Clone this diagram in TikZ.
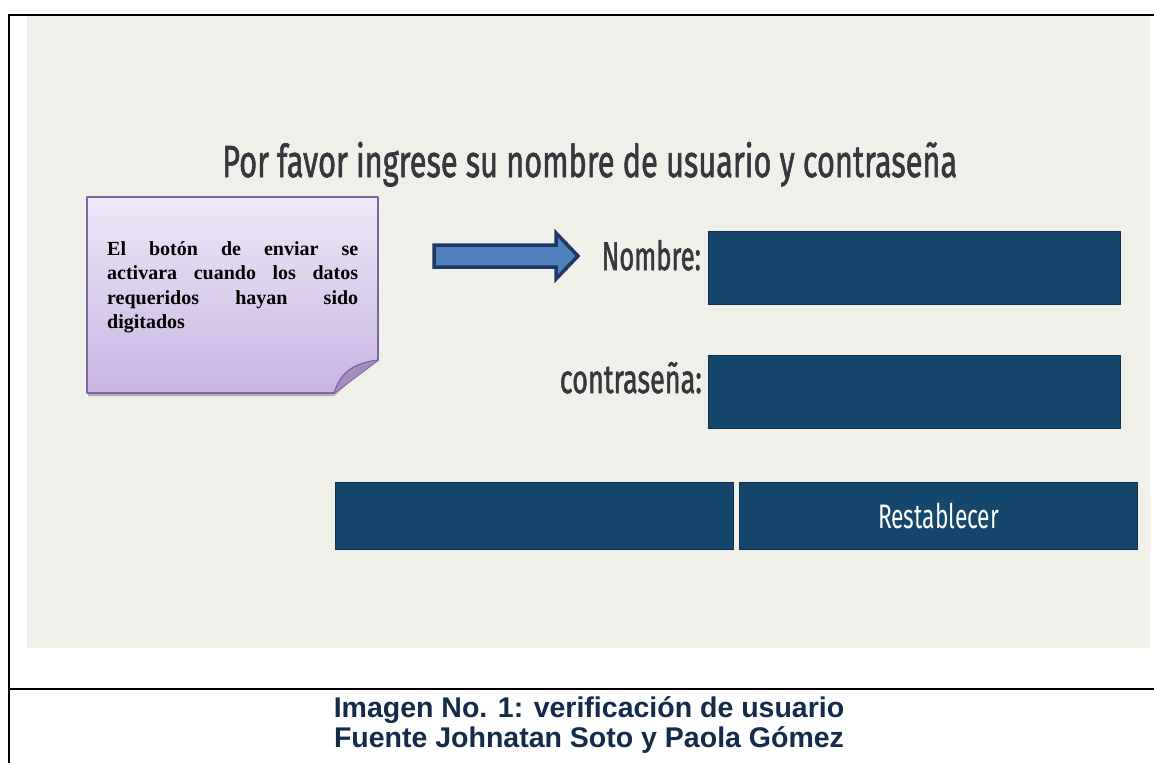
\documentclass[tikz,border=0pt]{standalone}
\usepackage{fontspec}
\setmainfont{Liberation Serif}
\newfontfamily\uifont{Fira Sans}
\newfontfamily\uifontm[FakeBold=1.6]{Fira Sans}
\newfontfamily\capfont{Liberation Sans}
\usepackage{graphicx}
\definecolor{screenbg}{HTML}{F0F0EB}
\definecolor{fieldblue}{HTML}{14476B}
\definecolor{fieldedge}{HTML}{0E3250}
\definecolor{uigray}{HTML}{35373C}
\definecolor{notetop}{HTML}{EEE8F8}
\definecolor{notebot}{HTML}{C7B4E2}
\definecolor{noteedge}{HTML}{8064A2}
\definecolor{flapfill}{HTML}{A28CC2}
\definecolor{arrowfill}{HTML}{4F81BD}
\definecolor{arrowedge}{HTML}{1F3864}
\definecolor{capblue}{HTML}{152B4C}
\begin{document}
\begin{tikzpicture}[x=1pt,y=-1pt,
  field/.style={rectangle, fill=fieldblue, draw=fieldedge, line width=1.2pt, inner sep=0pt, anchor=north west},
  uilabel/.style={inner sep=0pt, text=uigray, font=\uifontm},
  caption/.style={inner sep=0pt, text=capblue, font=\capfont\bfseries\fontsize{28.5}{30}\selectfont},
  frameline/.style={line width=2pt, black}]
\useasboundingbox (0,0) rectangle (1154,763);
\fill[white] (0,0) rectangle (1154,763);
% screenshot background
\fill[screenbg] (27,16) rectangle (1150,648);
% frame
\draw[frameline] (9,763) -- (9,15) -- (1154,15);
\draw[frameline] (9,689) -- (1154,689);
% title
\node[uilabel, anchor=base west] (title) at (222,177)
  {\resizebox{735pt}{\height}{\fontsize{45}{45}\selectfont Por favor ingrese su nombre de usuario y contraseña}};
% labels
\node[uilabel, anchor=base east] (nombreLbl) at (701,270)
  {\resizebox{99pt}{\height}{\fontsize{40}{40}\selectfont Nombre:}};
\node[uilabel, anchor=base east] (passLbl) at (702,393)
  {\resizebox{142pt}{\height}{\fontsize{40}{40}\selectfont contraseña:}};
% fields
\node[field, minimum width=412pt, minimum height=73pt] (nombreField) at (708,231) {};
\node[field, minimum width=412pt, minimum height=73pt] (passField) at (708,355) {};
% buttons
\node[field, minimum width=398pt, minimum height=67pt] (sendBtn) at (335,482) {};
\node[field, minimum width=398pt, minimum height=67pt] (resetBtn) at (739,482) {};
\node[inner sep=0pt, text=white, font=\uifont] (resetTxt) at (resetBtn.center)
  {\resizebox{121pt}{\height}{\fontsize{34}{34}\selectfont Restablecer}};
% block arrow
\draw[line width=3.5pt, draw=arrowedge, fill=arrowfill, line join=miter]
  (434,245) -- (556,245) -- (556,233) -- (578,256) -- (556,279) -- (556,267) -- (434,267) -- cycle;
% note shadow
\draw[gray!60, line width=2pt] (88,395) -- (334,395) -- (379,353);
% note body
\shade[top color=notetop, bottom color=notebot]
  (87,197) -- (378,197) -- (378,360) -- (334,393) -- (87,393) -- cycle;
\draw[noteedge, line width=1.8pt, line join=round]
  (87,197) -- (378,197) -- (378,360) -- (334,393) -- (87,393) -- cycle;
% curled flap
\fill[flapfill] (334,393) .. controls (340,376) and (348,364) .. (378,360) -- cycle;
\draw[noteedge, line width=1.2pt] (334,393) .. controls (340,376) and (348,364) .. (378,360);
% note text
\node[anchor=north west, inner sep=0pt, align=left, font=\bfseries\fontsize{20}{24.5}\selectfont] (noteText) at (107,241)
  {\makebox[251pt][s]{El botón de enviar se}\\
   \makebox[251pt][s]{activara cuando los datos}\\
   \makebox[251pt][s]{requeridos hayan sido}\\
   digitados};
% caption
\node[caption, anchor=base] (cap1) at (589,717) {Imagen No. 1: verificación de usuario};
\node[caption, anchor=base] (cap2) at (589,747) {Fuente Johnatan Soto y Paola Gómez};
\end{tikzpicture}
\end{document}
